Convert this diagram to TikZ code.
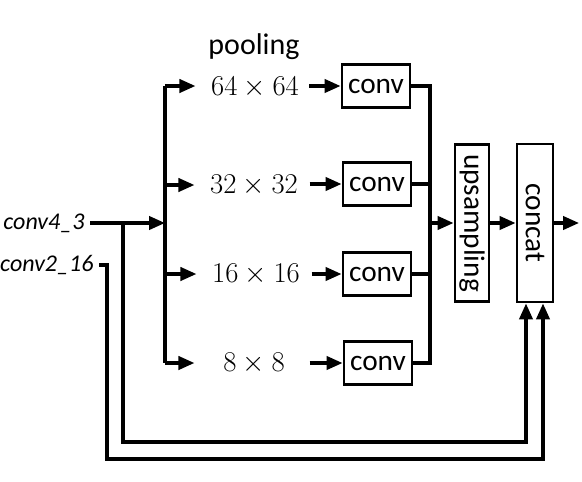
\RequirePackage{fix-cm}
\documentclass[tikz,border=0pt]{standalone}
\usepackage[no-math]{fontspec}
\usepackage{graphicx}
\usetikzlibrary{arrows.meta,calc}
\newfontfamily\calib{Carlito}
\begin{document}
\begin{tikzpicture}[x=0.75pt,y=-0.75pt,
  line width=2.4pt,
  arr/.style={-{Triangle[length=12pt,width=10pt]}},
  box/.style={draw, line width=2.2pt, inner sep=0pt, font=\calib\fontsize{22}{26}\selectfont},
  convbox/.style={box, minimum width=51pt, minimum height=32.25pt},
  lab/.style={inner sep=0pt, minimum width=75pt, minimum height=20pt, font=\fontsize{21.5}{26}\selectfont},
  inlab/.style={inner sep=0pt, font=\calib\itshape\fontsize{18}{21}\selectfont}]
\useasboundingbox (0,0) rectangle (582,482);
% title
\node[inner sep=0pt, font=\calib\fontsize{22.5}{26}\selectfont] (pool) at (254,47) {pooling};
% pooling sizes
\node[lab] (p1) at (255,87) {$64\times64$};
\node[lab] (p2) at (254,185) {$32\times32$};
\node[lab] (p3) at (256,274) {$16\times16$};
\node[lab] (p4) at (254,363) {$8\times8$};
% conv boxes
\node[convbox] (c1) at (376,86) {conv};
\node[convbox] (c2) at (377,184) {conv};
\node[convbox] (c3) at (377,274) {conv};
\node[convbox] (c4) at (378,363) {conv};
% upsampling and concat
\node[box, minimum width=25.5pt, minimum height=117.75pt] (up) at (472,223) {\rotatebox{-90}{upsampling}};
\node[box, minimum width=27pt, minimum height=118.5pt] (cat) at (535,223) {\rotatebox{-90}{concat}};
% inputs
\node[inlab, anchor=east] (c43) at (86,223) {conv4\_3};
\node[inlab, anchor=east] (c216) at (95,265) {conv2\_16};
% coordinates
\coordinate (bt) at (165,86);
\coordinate (bb) at (165,363);
\coordinate (j43) at (165,223);
\coordinate (b1) at (123,223);
\coordinate (b2) at (107,265);
\coordinate (lo1) at (0,442);
\coordinate (lo2) at (0,459);
\coordinate (colx) at (430,0);
\coordinate (out) at (579,223);
\coordinate (cin1) at ($(cat.south)+(-9,0)$);
\coordinate (cin2) at ($(cat.south)+(8,0)$);
% splitter
\draw (bt) -- (bb);
\draw[arr] (c43.east) ++(4,0) -- (j43);
\draw[arr, shorten >=6pt] (bt) -- (p1.west |- bt);
\draw[arr, shorten >=6pt] (p2.west -| bt) -- (p2.west);
\draw[arr, shorten >=6pt] (p3.west -| bt) -- (p3.west);
\draw[arr, shorten >=6pt] (bb) -- (p4.west);
% to conv
\draw[arr, shorten <=2pt] (p1.east |- c1) -- (c1.west);
\draw[arr, shorten <=3pt] (p2.east |- c2) -- (c2.west);
\draw[arr, shorten <=3pt] (p3.east) -- (c3.west);
\draw[arr, shorten <=3pt] (p4.east) -- (c4.west);
% collector
\draw (c1.east) -- (c1.east -| colx) -- (c4.east -| colx) -- (c4.east);
\draw (c2.east) -- (c2.east -| colx);
\draw (c3.east) -- (c3.east -| colx);
\draw[arr] (up.west -| colx) -- (up.west);
\draw[arr] (up.east) -- (cat.west);
\draw[arr] (cat.east) -- (out);
% skip connections
\draw[arr] (b1) -- (b1 |- lo1) -| (cin1);
\draw[arr] (c216.east) ++(4,0) -- (b2) -- (b2 |- lo2) -| (cin2);
\end{tikzpicture}
\end{document}
